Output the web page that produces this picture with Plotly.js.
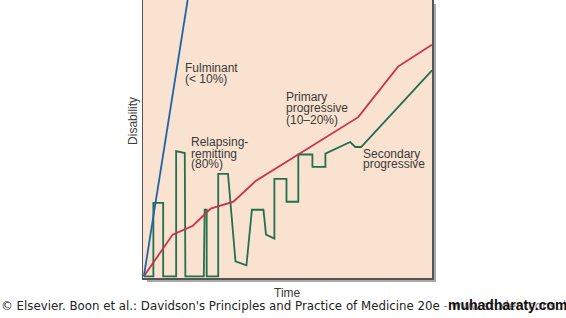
<!DOCTYPE html>
<html>
<head>
<meta charset="utf-8">
<script src="https://cdn.plot.ly/plotly-3.0.1.min.js"></script>
<style>html,body{margin:0;padding:0;background:#fff;}#chart{width:566px;height:318px;}</style>
</head>
<body>
<div id="chart"></div>
<script>
// Time (0-100) vs Disability (0-100)
const fulminantTime = [0, 15.2];
const fulminantDisability = [0, 100];

const primaryTime = [0, 10.0, 17.0, 23.2, 31.1, 38.8, 74.4, 88.2, 100];
const primaryDisability = [0, 15.1, 18.3, 24.5, 27.0, 34.5, 57.6, 75.9, 83.8];

const relapsingTime = [0, 3.3, 3.3, 6.7, 6.7, 11.2, 11.2, 14.2, 14.4, 20.8, 21.1, 21.8, 21.8,
  25.8, 25.8, 29.2, 31.8, 35.6, 37.5, 41.5, 42.4, 45.3, 45.3, 49.5, 49.5, 53.6, 53.6,
  58.5, 58.5, 63.0, 63.0, 71.6, 73.4, 75.4, 100];
const relapsingDisability = [0, 0, 26.6, 26.6, 0, 0, 45.3, 44.6, 0, 0, 24.1, 24.1, 0,
  0, 37.1, 37.1, 5.4, 4.0, 24.1, 24.1, 15.1, 13.7, 35.3, 35.3, 27.0, 27.0, 44.1,
  44.1, 39.6, 39.6, 44.4, 48.6, 46.8, 46.8, 74.5];

const labelLines = [
  {text: "Fulminant", x: 13.9, y: 75.4},
  {text: "(< 10%)", x: 13.9, y: 71.5},
  {text: "Relapsing-", x: 15.9, y: 48.6},
  {text: "remitting", x: 15.9, y: 44.4},
  {text: "(80%)", x: 15.9, y: 40.5},
  {text: "Primary", x: 49.1, y: 64.9},
  {text: "progressive", x: 49.1, y: 60.8},
  {text: "(10–20%)", x: 49.1, y: 56.7},
  {text: "Secondary", x: 75.7, y: 44.4},
  {text: "progressive", x: 75.7, y: 40.5}
];

const txtColor = "#3a3a3a";
const traces = [
  {x: relapsingTime, y: relapsingDisability, mode: "lines", line: {color: "#22704c", width: 1.8}, hoverinfo: "skip"},
  {x: primaryTime, y: primaryDisability, mode: "lines", line: {color: "#c8324b", width: 1.8}, hoverinfo: "skip"},
  {x: fulminantTime, y: fulminantDisability, mode: "lines", line: {color: "#2064a6", width: 1.8}, hoverinfo: "skip"}
];

const annotations = labelLines.map(l => ({
  text: l.text, x: l.x, y: l.y, xref: "x", yref: "y", xanchor: "left", yanchor: "middle",
  showarrow: false, borderpad: 0, font: {family: "Liberation Sans, Arial, sans-serif", size: 12, color: txtColor}
}));
annotations.push(
  {text: "Disability", textangle: -90, x: -0.0346, y: 0.565, xref: "paper", yref: "paper",
   xanchor: "center", yanchor: "middle", showarrow: false,
   font: {family: "Liberation Sans, Arial, sans-serif", size: 12, color: txtColor}},
  {text: "Time", x: 0.5, y: -0.054, xref: "paper", yref: "paper", xanchor: "center", yanchor: "middle",
   showarrow: false, font: {family: "Liberation Sans, Arial, sans-serif", size: 12, color: txtColor}},
  {text: "© Elsevier. Boon et al.: Davidson's Principles and Practice of Medicine 20e <span style='color:#8a8a8a'>- www.studentconsult.com</span>",
   x: -0.4948, y: -0.1007, xref: "paper", yref: "paper", xanchor: "left", yanchor: "middle",
   showarrow: false, borderpad: 0, font: {family: "DejaVu Sans, Verdana, sans-serif", size: 11.8, color: "#222"}},
  {text: "<b>muhadharaty.com</b>", x: 1.052, y: -0.097, xref: "paper", yref: "paper", xanchor: "left", yanchor: "middle",
   showarrow: false, borderpad: 0, font: {family: "Liberation Sans Narrow, Liberation Sans, sans-serif", size: 14, color: "#111"}}
);

const layout = {
  width: 566, height: 318,
  margin: {l: 143, r: 134, t: 0, b: 40, pad: 0},
  paper_bgcolor: "#ffffff",
  plot_bgcolor: "#f9e2cf",
  showlegend: false,
  xaxis: {range: [-0.3, 100], showgrid: false, zeroline: false, showticklabels: false, ticks: "",
          showline: true, mirror: true, linecolor: "#555", linewidth: 1.5, fixedrange: true},
  yaxis: {range: [-0.6, 100], showgrid: false, zeroline: false, showticklabels: false, ticks: "",
          showline: true, mirror: true, linecolor: "#555", linewidth: 1.5, fixedrange: true},
  shapes: [
    {type: "rect", xref: "paper", yref: "paper", x0: 1.002, x1: 1.0138, y0: -0.0144, y1: 0.9856,
     fillcolor: "#a9a9a9", line: {width: 0}, layer: "below"},
    {type: "rect", xref: "paper", yref: "paper", x0: 0.0138, x1: 1.0138, y0: -0.0144, y1: -0.002,
     fillcolor: "#a9a9a9", line: {width: 0}, layer: "below"}
  ],
  annotations: annotations
};

Plotly.newPlot("chart", traces, layout, {staticPlot: true, displayModeBar: false});
</script>
</body>
</html>
